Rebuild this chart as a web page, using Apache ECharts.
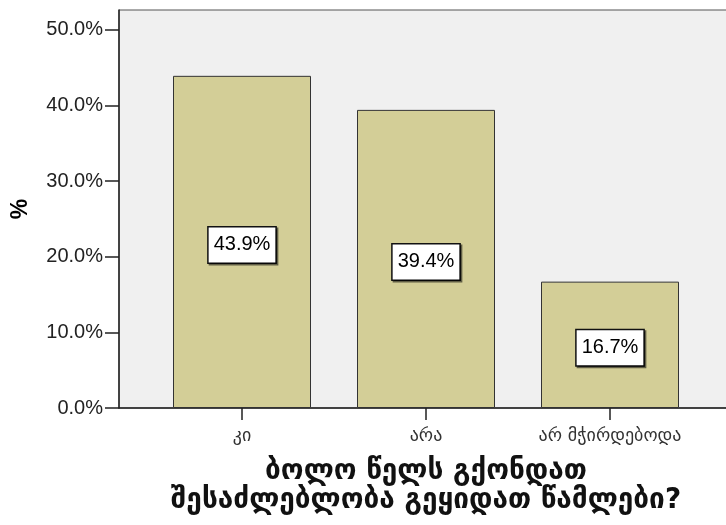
<!DOCTYPE html>
<html>
<head>
<meta charset="utf-8">
<script src="https://cdn.jsdelivr.net/npm/echarts@6/dist/echarts.min.js"></script>
<style>html,body{margin:0;padding:0;background:#fff}#c{width:726px;height:525px}</style>
</head>
<body>
<div id="c"></div>
<script>
const categories = ['კი', 'არა', 'არ მჭირდებოდა'];
const values = [43.9, 39.4, 16.7];
const yTicks = [0, 10, 20, 30, 40, 50];
const yAxisName = '%';
const titleLines = ['ბოლო წელს გქონდათ', 'შესაძლებლობა გეყიდათ წამლები?'];

const chart = echarts.init(document.getElementById('c'), null, {renderer: 'canvas'});
const YMAX = 52.6;
const fmt = v => v.toFixed(1) + '%';
chart.setOption({
  animation: false,
  backgroundColor: '#ffffff',
  grid: [
    {left: 119, right: -4, top: 10, bottom: 117, show: true, backgroundColor: '#f0f0f0', borderColor: '#555', borderWidth: 1, containLabel: false, outerBoundsMode: 'none'},
    {left: 150, width: 552, top: 10, bottom: 117, containLabel: false, outerBoundsMode: 'none'}
  ],
  xAxis: [
    {type: 'value', gridIndex: 0, min: 0, max: 1, axisLine: {show: true, lineStyle: {color: '#222', width: 1.5}},
     axisTick: {show: false}, axisLabel: {show: false}, splitLine: {show: false}},
    {type: 'category', gridIndex: 1, data: categories,
     axisLine: {show: false},
     axisTick: {show: true, alignWithLabel: true, interval: 0, length: 12, lineStyle: {color: '#222', width: 1.5}},
     axisLabel: {interval: 0, hideOverlap: false, margin: 19, color: '#333', fontSize: 18, fontFamily: 'DejaVu Sans'},
     splitLine: {show: false}}
  ],
  yAxis: [
    {type: 'value', gridIndex: 0, min: 0, max: YMAX, interval: 10,
     axisLine: {show: true, lineStyle: {color: '#222', width: 1.5}},
     axisTick: {show: true, length: 14, customValues: yTicks, lineStyle: {color: '#222', width: 1.5}},
     axisLabel: {customValues: yTicks, margin: 16, formatter: fmt, color: '#222', fontSize: 20, fontFamily: 'Liberation Sans, Arial'},
     splitLine: {show: false},
     name: yAxisName, nameLocation: 'middle', nameRotate: 90, nameGap: 87,
     nameTextStyle: {fontSize: 23, fontWeight: 'bold', color: '#000', fontFamily: 'Liberation Sans, Arial'}},
    {type: 'value', gridIndex: 1, min: 0, max: YMAX, show: false}
  ],
  series: [{
    type: 'bar', xAxisIndex: 1, yAxisIndex: 1, data: values, barWidth: 138,
    itemStyle: {color: '#d3ce97', borderColor: '#333', borderWidth: 1},
    label: {show: true, position: 'inside', offset: [0, 3], formatter: p => fmt(p.value),
      color: '#000', fontSize: 20, fontFamily: 'Liberation Sans, Arial', lineHeight: 22,
      backgroundColor: '#fff', borderColor: '#111', borderWidth: 1.5, padding: [7, 5, 6, 5],
      shadowColor: 'rgba(0,0,0,0.55)', shadowOffsetX: 1.5, shadowOffsetY: 1.5, shadowBlur: 0}
  }],
  graphic: [
    {type: 'text', x: 426, y: 472, style: {text: titleLines[0], textAlign: 'center', textVerticalAlign: 'middle', font: 'bold 28px "DejaVu Sans"', fill: '#111'}},
    {type: 'text', x: 426, y: 501, style: {text: titleLines[1], textAlign: 'center', textVerticalAlign: 'middle', font: 'bold 28px "DejaVu Sans"', fill: '#111'}}
  ]
});
</script>
</body>
</html>
